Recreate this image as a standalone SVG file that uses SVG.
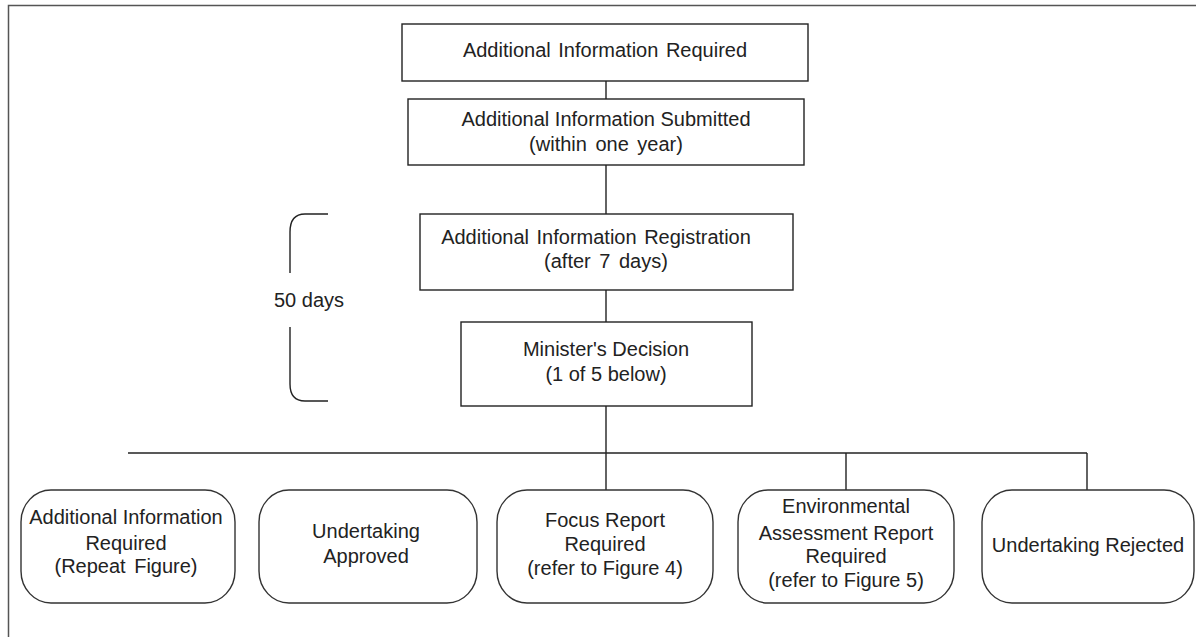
<svg xmlns="http://www.w3.org/2000/svg" width="1196" height="637" viewBox="0 0 1196 637">
<style>
  .box{fill:#fff;stroke:#222;stroke-width:1.4}
  .rbox{fill:#fff;stroke:#333;stroke-width:1.4}
  .ln{fill:none;stroke:#222;stroke-width:1.4}
  .frame{fill:none;stroke:#555;stroke-width:1.5}
  text{font-family:"Liberation Sans",Arial,sans-serif;font-size:20px;fill:#222;text-anchor:middle}
</style>
<rect width="1196" height="637" fill="#fff"/>
<path class="frame" d="M8.5,637 V5.5 H1196"/>
<g id="connectors">
  <line class="ln" x1="606" y1="81" x2="606" y2="99"/>
  <line class="ln" x1="606" y1="165" x2="606" y2="214"/>
  <line class="ln" x1="606" y1="290" x2="606" y2="322"/>
  <line class="ln" x1="606" y1="406" x2="606" y2="490"/>
  <line class="ln" x1="128" y1="453" x2="1087" y2="453"/>
  <line class="ln" x1="846" y1="453" x2="846" y2="490"/>
  <line class="ln" x1="1087" y1="453" x2="1087" y2="490"/>
</g>
<g id="bracket">
  <path class="ln" d="M328,214 H305 Q290,214 290,232 V273 M290,327 V384 Q290,401 305,401 H328"/>
  <text x="309" y="307">50 days</text>
</g>
<g id="n1">
  <rect class="box" x="402" y="24" width="406" height="57"/>
  <text x="605" y="57" word-spacing="2">Additional Information Required</text>
</g>
<g id="n2">
  <rect class="box" x="408" y="99" width="396" height="66"/>
  <text x="606" y="126">Additional Information Submitted</text>
  <text x="606" y="151" word-spacing="3">(within one year)</text>
</g>
<g id="n3">
  <rect class="box" x="420" y="214" width="373" height="76"/>
  <text x="596" y="244" word-spacing="2">Additional Information Registration</text>
  <text x="606" y="268" word-spacing="3">(after 7 days)</text>
</g>
<g id="n4">
  <rect class="box" x="461" y="322" width="291" height="84"/>
  <text x="606" y="356">Minister's Decision</text>
  <text x="606" y="381">(1 of 5 below)</text>
</g>
<g id="o1">
  <rect class="rbox" x="21" y="490" width="214" height="113" rx="30" ry="32"/>
  <text x="126" y="524">Additional Information</text>
  <text x="126" y="550">Required</text>
  <text x="126" y="573" word-spacing="3">(Repeat Figure)</text>
</g>
<g id="o2">
  <rect class="rbox" x="259" y="490" width="218" height="113" rx="30" ry="32"/>
  <text x="366" y="538">Undertaking</text>
  <text x="366" y="563">Approved</text>
</g>
<g id="o3">
  <rect class="rbox" x="497" y="490" width="216" height="113" rx="30" ry="32"/>
  <text x="605" y="527">Focus Report</text>
  <text x="605" y="551">Required</text>
  <text x="605" y="575">(refer to Figure 4)</text>
</g>
<g id="o4">
  <rect class="rbox" x="738" y="490" width="216" height="113" rx="30" ry="32"/>
  <text x="846" y="513">Environmental</text>
  <text x="846" y="540">Assessment Report</text>
  <text x="846" y="563">Required</text>
  <text x="846" y="587">(refer to Figure 5)</text>
</g>
<g id="o5">
  <rect class="rbox" x="982" y="490" width="212" height="113" rx="30" ry="32"/>
  <text x="1088" y="552">Undertaking Rejected</text>
</g>
</svg>
